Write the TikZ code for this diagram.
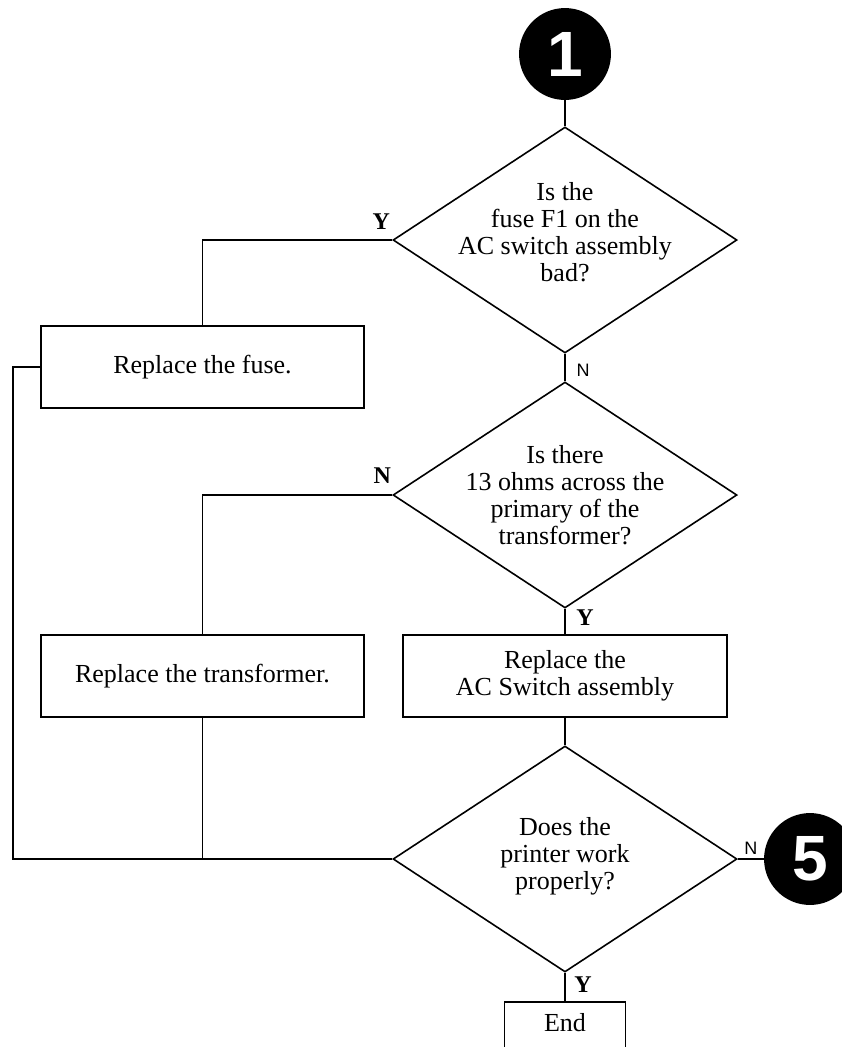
\documentclass[tikz,border=0pt]{standalone}
\usepackage{fontspec}
\setmainfont{Liberation Serif}
\newfontfamily\lsans{Liberation Sans}
\usetikzlibrary{shapes.geometric}
\begin{document}
\begin{tikzpicture}[x=1pt,y=-1pt,
  line width=1.9pt,
  decision/.style={draw, diamond, minimum width=344pt, minimum height=226pt, inner sep=0pt, line width=1.6pt},
  qtext/.style={font=\fontsize{26}{27}\selectfont, align=center, inner sep=0pt},
  stepbox/.style={draw, rectangle, minimum width=323pt, minimum height=82pt, font=\fontsize{26}{27}\selectfont, align=center, inner sep=0pt},
  conn/.style={draw, circle, fill=black, minimum size=90pt, inner sep=0pt, text=white, font=\lsans\bfseries\fontsize{64}{64}\selectfont},
  ylab/.style={font=\bfseries\fontsize{24}{24}\selectfont, inner sep=0pt},
  nlab/.style={font=\lsans\fontsize{18}{18}\selectfont, inner sep=0pt},
]
\useasboundingbox (0,0) rectangle (842,1047);
\fill[white] (0,0) rectangle (842,1047);
\clip (0,0) rectangle (842,1047);

% nodes
\node[conn] (c1) at (565,54) {1};
\node[decision, label={[qtext, yshift=8pt]center:{Is the\\fuse F1 on the\\AC switch assembly\\bad?}}] (d1) at (565,240) {};
\node[decision, label={[qtext]center:{Is there\\13 ohms across the\\primary of the\\transformer?}}] (d2) at (565,495) {};
\node[stepbox] (fuse) at (202.5,367) {Replace the fuse.};
\node[stepbox] (trans) at (202.5,676) {Replace the transformer.};
\node[stepbox, minimum width=324pt] (ac) at (565,676) {Replace the\\AC Switch assembly};
\node[decision, label={[qtext, yshift=3pt]center:{Does the\\printer work\\properly?}}] (d3) at (565,859) {};
\node[conn] (c5) at (810,859) {5};
\node[draw, rectangle, minimum width=121pt, minimum height=60pt, anchor=north, inner sep=0pt,
      label={[qtext, yshift=9pt]center:End}] (endb) at (565,1001) {};

\coordinate (lft) at ([xshift=-27pt]fuse.west);
\coordinate (jn) at (trans.south |- d3.west);

% connectors
\draw (c1.south) -- (d1.north);
\draw (d1.west) -| (fuse.north);
\draw (d1.south) -- (d2.north);
\draw (d2.west) -| (trans.north);
\draw (d2.south) -- (ac.north);
\draw (ac.south) -- (d3.north);
\draw (fuse.west) -- (lft) |- (d3.west);
\draw (trans.south) -- (jn);
\draw (d3.east) -- (c5.west);
\draw (d3.south) -- (endb.north);

% branch labels
\node[ylab] (y1) at ([shift={(-11,-18)}]d1.west) {Y};
\node[nlab] (n1) at ([shift={(18,17)}]d1.south) {N};
\node[ylab] (n2) at ([shift={(-10,-19)}]d2.west) {N};
\node[ylab] (y2) at ([shift={(20,9)}]d2.south) {Y};
\node[nlab] (n3) at ([shift={(13,-11)}]d3.east) {N};
\node[ylab] (y3) at ([shift={(18,12)}]d3.south) {Y};
\end{tikzpicture}
\end{document}
